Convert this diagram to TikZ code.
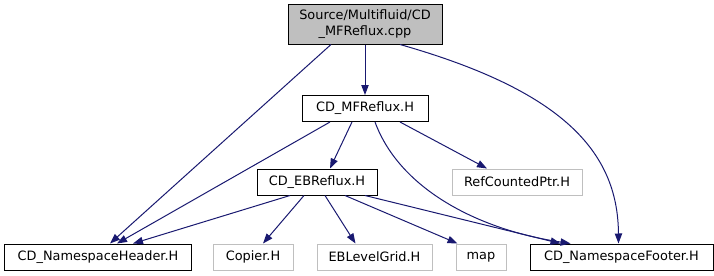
\documentclass[tikz,border=0pt]{standalone}
\usepackage{fontspec}
\setmainfont{DejaVu Sans}
\usetikzlibrary{arrows.meta,calc}
\definecolor{edgeblue}{HTML}{191970}
\definecolor{boxgrey}{HTML}{BFBFBF}
\begin{document}
\begin{tikzpicture}[x=0.75bp,y=-0.75bp,
  file/.style={draw=black,line width=0.75bp,minimum height=19.5bp,inner sep=0pt,font=\fontsize{9.7}{11.5}\selectfont},
  extfile/.style={file,draw=boxgrey},
  incl/.style={draw=edgeblue,line width=0.75bp,-{Triangle[length=7.5bp,width=5.5bp]}}]
\useasboundingbox (0,0) rectangle (714,276);
\node[file,fill=boxgrey,minimum width=115.5bp,minimum height=30bp,align=center] (src) at (365,24) {Source/Multifluid/CD\\\_MFReflux.cpp};
\node[file,minimum width=94.5bp] (mf) at (365,108.5) {CD\_MFReflux.H};
\node[file,minimum width=90bp] (eb) at (317,182) {CD\_EBReflux.H};
\node[extfile,minimum width=97.5bp] (rcp) at (517,182) {RefCountedPtr.H};
\node[file,minimum width=139.5bp] (hdr) at (98,257) {CD\_NamespaceHeader.H};
\node[extfile,minimum width=60bp] (cop) at (253,257) {Copier.H};
\node[extfile,minimum width=86.25bp] (eblg) at (374.5,257) {EBLevelGrid.H};
\node[extfile,minimum width=37.5bp] (map) at (481,257) {map};
\node[file,minimum width=137.25bp] (ftr) at (621.5,257) {CD\_NamespaceFooter.H};
\draw[incl] ($(src.south)+(-34,0)$) -- ($(hdr.north)+(12,0)$);
\draw[incl] (src.south) -- (mf.north);
\draw[incl] ($(src.south)+(35,0)$) .. controls (560,90) and (618,150) .. ($(ftr.north)+(-3,0)$);
\draw[incl] ($(mf.south)+(-35,0)$) -- ($(hdr.north)+(19,0)$);
\draw[incl] ($(mf.south)+(-13,0)$) -- ($(eb.north)+(13,0)$);
\draw[incl] ($(mf.south)+(35,0)$) -- ($(rcp.north)+(-30,0)$);
\draw[incl] ($(mf.south)+(10,0)$) .. controls (400,190) and (480,230) .. ($(ftr.north)+(-51,0)$);
\draw[incl] ($(eb.south)+(-27,0)$) -- ($(hdr.north)+(35,0)$);
\draw[incl] ($(eb.south)+(-13,0)$) -- ($(cop.north)+(10,0)$);
\draw[incl] ($(eb.south)+(8,0)$) -- ($(eblg.north)+(-19,0)$);
\draw[incl] ($(eb.south)+(28,0)$) -- ($(map.north west)+(2,0)$);
\draw[incl] ($(eb.south)+(48,0)$) -- ($(ftr.north)+(-61,0)$);
\end{tikzpicture}
\end{document}
